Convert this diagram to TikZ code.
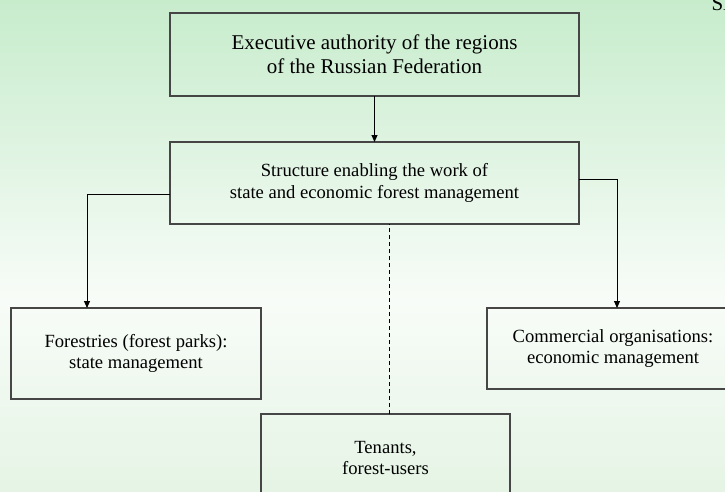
\documentclass[tikz,border=0pt]{standalone}
\usepackage{fontspec}
\setmainfont{Liberation Serif}
\usepackage{xcolor}
\usetikzlibrary{arrows.meta}

\definecolor{bgtop}{RGB}{199,236,204}
\definecolor{bgmid}{RGB}{248,252,248}
\definecolor{bgbot}{RGB}{229,244,229}
\definecolor{boxline}{RGB}{70,70,70}

\tikzset{
    box/.style={draw=boxline, line width=1.2pt, inner sep=0pt, outer sep=0pt,
        align=center, font=\fontsize{18.6}{21.5}\selectfont},
    arr/.style={line width=0.9pt, -{Triangle[length=7pt,width=6pt]}},
    dashline/.style={line width=0.9pt, dash pattern=on 4pt off 3pt}
}

\begin{document}
\begin{tikzpicture}[x=1pt, y=-1pt]
    \useasboundingbox (0,0) rectangle (725,492);
    % background
    \shade [top color=bgtop, bottom color=bgmid] (0,0) rectangle (725,300);
    \shade [top color=bgmid, bottom color=bgbot] (0,300) rectangle (725,492);

    \node [anchor=base west, font=\fontsize{21}{24}\selectfont] (sl) at (708,11) {Sl};

    \node [box, minimum width=409pt, minimum height=83pt, font=\fontsize{21}{24}\selectfont]
        (exec) at (374.5,54.5) {Executive authority of the regions\\of the Russian Federation};
    \node [box, minimum width=409pt, minimum height=82pt]
        (struct) at (374.5,183) {Structure enabling the work of\\state and economic forest management};
    \node [box, minimum width=250pt, minimum height=91pt]
        (forest) at (136,353.5) {Forestries (forest parks):\\state management};
    \node [box, minimum width=252pt, minimum height=81pt]
        (comm) at (613,348.5) {Commercial organisations:\\economic management};
    \node [box, minimum width=249pt, minimum height=88pt]
        (tenants) at (385.5,458) {Tenants,\\forest-users};

    % connectors
    \draw [arr] (exec.south) -- (struct.north);
    \draw [arr] ([yshift=-11pt]struct.west) -| ([xshift=-49pt]forest.north);
    \draw [arr] ([yshift=4pt]struct.east) -| ([xshift=4pt]comm.north);
    \draw [dashline] ([xshift=3.5pt]tenants.north) -- ([xshift=3.5pt]tenants.north |- struct.south);
\end{tikzpicture}
\end{document}
